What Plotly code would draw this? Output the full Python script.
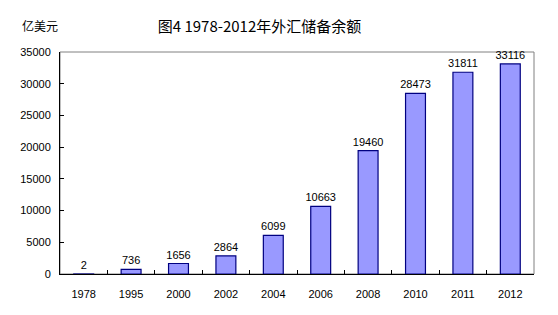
import plotly.graph_objects as go

years = ["1978", "1995", "2000", "2002", "2004", "2006", "2008", "2010", "2011", "2012"]
reserves = [2, 736, 1656, 2864, 6099, 10663, 19460, 28473, 31811, 33116]
y_ticks = [0, 5000, 10000, 15000, 20000, 25000, 30000, 35000]
y_tick_labels = ["0", "5000", "10000", "15000", "20000", "25000", "30000", "35000"]

font_family = "Liberation Sans, Noto Sans CJK SC, sans-serif"

fig = go.Figure(go.Bar(
    x=years, y=reserves,
    width=0.42,
    marker=dict(color="#9999FF", line=dict(color="#000080", width=1.2)),
    text=[str(v) for v in reserves],
    textposition="outside",
    constraintext="none",
    textfont=dict(size=11, color="black", family=font_family),
    cliponaxis=False,
))

fig.update_layout(
    width=558, height=315,
    margin=dict(l=60, r=24, t=52, b=41),
    paper_bgcolor="white", plot_bgcolor="white",
    showlegend=False,
    font=dict(family=font_family, size=11, color="black"),
    title=dict(text="图4 1978-2012年外汇储备余额", x=0.465, xanchor="center",
               y=0.915, yanchor="middle",
               font=dict(size=15, family="Noto Sans CJK SC, sans-serif", color="black")),
    shapes=[dict(type="rect", xref="paper", yref="paper", x0=0, y0=0, x1=1, y1=1,
                 line=dict(color="#808080", width=1), layer="below")],
    annotations=[dict(text="亿美元", xref="paper", yref="paper", x=-0.085, y=1.07,
                      xanchor="left", yanchor="bottom", showarrow=False,
                      font=dict(size=12, family="Noto Sans CJK SC, sans-serif"))],
)
fig.update_xaxes(
    type="category", showline=True, linecolor="black", linewidth=1,
    ticks="inside", tickson="boundaries", ticklen=4, tickcolor="black",
    showgrid=False, tickfont=dict(size=11), ticklabelstandoff=10,
)
fig.update_yaxes(
    range=[0, 35000], tickvals=y_ticks, ticktext=y_tick_labels,
    showline=True, linecolor="black", linewidth=1,
    ticks="inside", ticklen=4, tickcolor="black", showgrid=False,
    zeroline=False, tickfont=dict(size=11), ticklabelstandoff=6,
)

fig.write_html("out.html")
